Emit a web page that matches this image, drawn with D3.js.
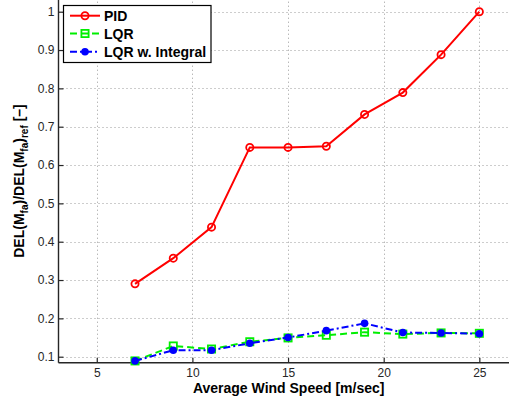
<!DOCTYPE html>
<html>
<head>
<meta charset="utf-8">
<script src="https://cdn.jsdelivr.net/npm/d3@7"></script>
<style>
  html, body { margin: 0; padding: 0; background: #fff; }
  svg { display: block; font-family: "Liberation Sans", Arial, Helvetica, sans-serif; }
</style>
</head>
<body>
<svg id="chart" width="509" height="400"></svg>
<script>
// Wind speed bins [m/s]
const windSpeeds = [7, 9, 11, 13, 15, 17, 19, 21, 23, 25];
// Normalised damage-equivalent fore-aft tower moment for each controller
const pidValues = [0.290, 0.357, 0.438, 0.646, 0.646, 0.649, 0.732, 0.789, 0.888, 1.000];
const lqrValues = [0.089, 0.128, 0.120, 0.139, 0.149, 0.156, 0.164, 0.159, 0.162, 0.161];
const lqrIntValues = [0.089, 0.117, 0.117, 0.135, 0.150, 0.168, 0.187, 0.163, 0.162, 0.160];
const seriesNames = ["PID", "LQR", "LQR w. Integral"];
const xTicks = [5, 10, 15, 20, 25];
const yTicks = [0.1, 0.2, 0.3, 0.4, 0.5, 0.6, 0.7, 0.8, 0.9, 1];

const svg = d3.select("#chart");
const W = 509, H = 400;

const x = d3.scaleLinear().domain([3, 27]).range([58.5, 517.6]);
const y = d3.scaleLinear().domain([0.1, 1.0]).range([356.7, 11.7]);
const yBottom = 362.7;
const yTop = -10;

// grid
const grid = svg.append("g").attr("stroke", "#9a9a9a").attr("stroke-width", 1)
  .attr("stroke-dasharray", "1,3");
grid.selectAll("line.gx").data(xTicks).join("line")
  .attr("x1", d => Math.round(x(d)) + 0.5).attr("x2", d => Math.round(x(d)) + 0.5)
  .attr("y1", yBottom).attr("y2", yTop);
grid.selectAll("line.gy").data(yTicks).join("line")
  .attr("y1", d => Math.round(y(d)) + 0.5).attr("y2", d => Math.round(y(d)) + 0.5)
  .attr("x1", x(3)).attr("x2", W + 10);

// axes (ticks pointing inward)
const xAxis = d3.axisBottom(x).tickValues(xTicks).tickFormat(d3.format("d"))
  .tickSizeInner(-5).tickSizeOuter(0).tickPadding(6);
const yAxis = d3.axisLeft(y).tickValues(yTicks).tickFormat(d => d === 1 ? "1" : d3.format(".1f")(d))
  .tickSizeInner(-5).tickSizeOuter(0).tickPadding(4);

const gx = svg.append("g").attr("transform", `translate(0,${yBottom})`).call(xAxis);
const gy = svg.append("g").attr("transform", `translate(${x(3)},0)`).call(yAxis);
[gx, gy].forEach(g => {
  g.select(".domain").remove();
  g.selectAll(".tick line").attr("stroke", "#262626").attr("stroke-width", 1.2);
  g.selectAll(".tick text").attr("fill", "#262626").style("font-size", "12px")
    .style("font-family", "'Liberation Sans', Arial, sans-serif");
});
svg.append("line").attr("x1", x(3)).attr("x2", W + 5).attr("y1", yBottom).attr("y2", yBottom)
  .attr("stroke", "#262626").attr("stroke-width", 1.4);
svg.append("line").attr("x1", x(3)).attr("x2", x(3)).attr("y1", yBottom).attr("y2", yTop)
  .attr("stroke", "#262626").attr("stroke-width", 1.4);

// series
const line = d3.line().x(d => x(d[0])).y(d => y(d[1]));
const pidData = windSpeeds.map((w, i) => [w, pidValues[i]]);
const lqrData = windSpeeds.map((w, i) => [w, lqrValues[i]]);
const lqrIntData = windSpeeds.map((w, i) => [w, lqrIntValues[i]]);

const styles = [
  { color: "#ff0000", dash: null, marker: "circle" },
  { color: "#00ee00", dash: "7,4", marker: "square" },
  { color: "#0000ff", dash: "7,3,2,3", marker: "dot" }
];

function drawMarker(g, px, py, s) {
  if (s.marker === "circle") {
    g.append("circle").attr("cx", px).attr("cy", py).attr("r", 3.6)
      .attr("fill", "none").attr("stroke", s.color).attr("stroke-width", 1.8);
  } else if (s.marker === "square") {
    g.append("rect").attr("x", px - 3.6).attr("y", py - 3.6).attr("width", 7.2).attr("height", 7.2)
      .attr("fill", "none").attr("stroke", s.color).attr("stroke-width", 1.8);
  } else {
    g.append("circle").attr("cx", px).attr("cy", py).attr("r", 3.8).attr("fill", s.color);
  }
}

[pidData, lqrData, lqrIntData].forEach((data, i) => {
  const s = styles[i];
  const g = svg.append("g");
  g.append("path").datum(data).attr("d", line).attr("fill", "none")
    .attr("stroke", s.color).attr("stroke-width", 2)
    .attr("stroke-dasharray", s.dash);
  data.forEach(d => drawMarker(g, x(d[0]), y(d[1]), s));
});

// legend
const leg = svg.append("g");
leg.append("rect").attr("x", 63.5).attr("y", 5.5).attr("width", 147.5).attr("height", 57)
  .attr("fill", "#fff").attr("stroke", "#000").attr("stroke-width", 1.2);
const rowsY = [15.7, 33.5, 51.7];
seriesNames.forEach((name, i) => {
  const s = styles[i];
  leg.append("line").attr("x1", 70).attr("x2", 100).attr("y1", rowsY[i]).attr("y2", rowsY[i])
    .attr("stroke", s.color).attr("stroke-width", 2).attr("stroke-dasharray", s.dash);
  drawMarker(leg, 85, rowsY[i], s);
  leg.append("text").attr("x", 104).attr("y", rowsY[i]).attr("dy", "0.36em")
    .style("font-size", "14px").style("font-weight", "bold").attr("fill", "#000").text(name);
});

// axis titles
svg.append("text").attr("x", 288.7).attr("y", 393).attr("text-anchor", "middle")
  .style("font-size", "14px").style("font-weight", "bold").attr("fill", "#000")
  .text("Average Wind Speed [m/sec]");

const yl = svg.append("text").attr("transform", "translate(24,181) rotate(-90)")
  .attr("text-anchor", "middle").style("font-size", "14px").style("font-weight", "bold").attr("fill", "#000");
yl.append("tspan").text("DEL(M");
yl.append("tspan").attr("dy", 4).style("font-size", "10px").text("fa");
yl.append("tspan").attr("dy", -4).text(")/DEL(M");
yl.append("tspan").attr("dy", 4).style("font-size", "10px").text("fa");
yl.append("tspan").attr("dy", -4).text(")");
yl.append("tspan").attr("dy", 4).style("font-size", "10px").text("ref");
yl.append("tspan").attr("dy", -4).text(" [–]");
</script>
</body>
</html>
